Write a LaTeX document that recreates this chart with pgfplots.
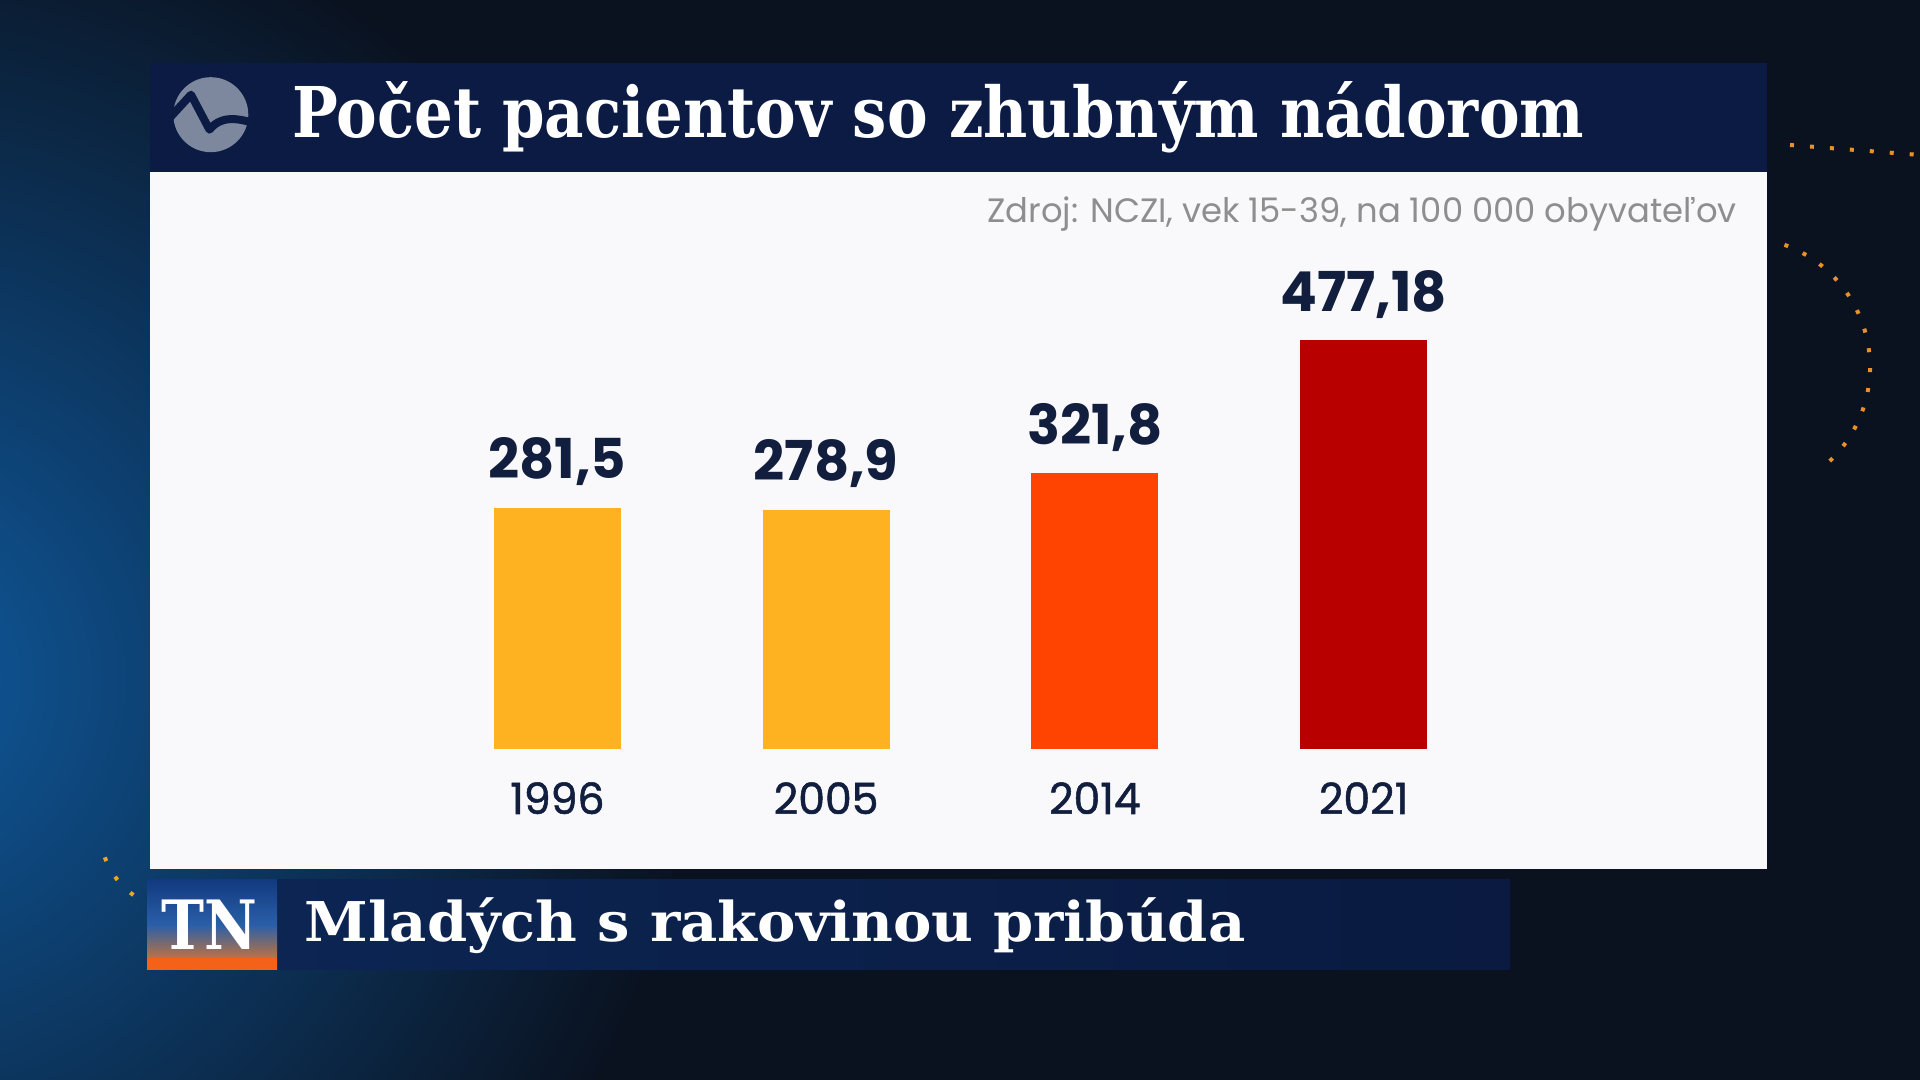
\documentclass[border=0pt]{standalone}
\usepackage{fontspec}
\usepackage{pgfplots}
\pgfplotsset{compat=1.18}
\setmainfont{Poppins}
\newfontfamily\titlefont{DejaVu Serif}[FakeStretch=0.87]
\newfontfamily\capfont{DejaVu Serif}[FakeStretch=1.05]
\newfontfamily\tnfont{DejaVu Serif}[FakeStretch=0.85]
\newfontfamily\valfont{Poppins}[FakeStretch=0.99]
\newfontfamily\yearfont{Poppins}[FakeStretch=0.99,FakeBold=1.2]
\newfontfamily\srcfont{Poppins}
\definecolor{bg}{HTML}{0A1220}
\definecolor{blueglow}{HTML}{0F5A9E}
\definecolor{navy}{HTML}{0B1B44}
\definecolor{txtnavy}{HTML}{121E3E}
\definecolor{logogray}{HTML}{7D889E}
\definecolor{cyellow}{HTML}{FFB221}
\definecolor{corange}{HTML}{FF4300}
\definecolor{cred}{HTML}{B90000}
\definecolor{panel}{HTML}{F9F9FB}
\definecolor{srcgray}{HTML}{8E8E8E}
\definecolor{botbarL}{HTML}{0C2654}
\definecolor{botbarR}{HTML}{0A1A40}
\definecolor{tntop}{HTML}{123A80}
\definecolor{tnmid}{HTML}{2A5FA8}
\definecolor{tnbot}{HTML}{F07A1E}
\definecolor{dotorange}{HTML}{E8902A}
\begin{document}
\begin{tikzpicture}
\useasboundingbox (0,0) rectangle (960pt,540pt);
\begin{scope}[x=0.5pt,y=0.5pt]
  % background
  \fill[bg] (0,0) rectangle (1920,1080);
  \begin{scope}
    \clip (0,0) rectangle (1920,1080);
    \shade[inner color=blueglow, outer color=bg] (-120,400) circle (820);
    \draw[dotorange, line width=2pt, dash pattern=on 2pt off 8pt] (1740,713) ++(70:130) arc (70:-50:130);
    \draw[dotorange, line width=2pt, dash pattern=on 2pt off 8pt] (1790,935) -- (1920,925);
    \draw[dotorange!80!yellow, line width=2pt, dash pattern=on 2pt off 9pt] (180,250) ++(200:80) arc (200:270:80);
  \end{scope}
  % title bar
  \fill[navy] (150,908) rectangle (1767,1017);
  % white panel
  \fill[panel] (150,211) rectangle (1767,908);
  % logo
  \fill[logogray] (210.8,965.3) circle (37.5);
  \draw[navy, line width=4pt, line join=round, line cap=round]
    (168,960.3) -- (191,985.3) -- (209.5,950.3) .. controls (215,957) and (225,966) .. (252,957.3);
  % title
  \node[anchor=base west, inner sep=0pt, text=white] at (292,942)
    {\titlefont\bfseries\fontsize{35}{40}\selectfont Počet pacientov so zhubným nádorom};
  % source
  \node[anchor=base east, inner sep=0pt, text=srcgray] at (1737,857)
    {\srcfont\fontsize{16.9}{20}\selectfont Zdroj: NCZI, vek 15-39, na 100 000 obyvateľov};
  % bottom bar
  \shade[left color=botbarL, right color=botbarR] (147,110) rectangle (1510,200);
  \shade[top color=tntop, bottom color=tnbot, middle color=tnmid] (147,110) rectangle (277,200);
  \fill[tnbot!80!red] (147,110) rectangle (277,122);
  \node[anchor=base, inner sep=0pt, text=white] at (209,130)
    {\tnfont\bfseries\fontsize{34}{36}\selectfont TN};
  \node[anchor=base west, inner sep=0pt, text=white] at (304,138)
    {\capfont\bfseries\fontsize{27.4}{32}\selectfont Mladých s rakovinou pribúda};
\end{scope}
\begin{axis}[
  at={(211.5pt,165.5pt)}, anchor=south west,
  width=537.5pt, height=214.25pt, scale only axis,
  xmin=-0.5, xmax=3.5, ymin=0, ymax=500,
  ybar, bar width=63.5pt,
  axis line style={draw=none},
  ytick=\empty,
  xtick={0,1,2,3},
  xticklabels={1996,2005,2014,2021},
  major tick length=0pt,
  xticklabel style={anchor=base, inner sep=0pt, yshift=-32.5pt,
    font=\yearfont\fontsize{21.5}{24}\selectfont, text=txtnavy},
  point meta=explicit symbolic,
  nodes near coords,
  nodes near coords style={anchor=base, inner sep=0pt, yshift=14.5pt,
    font=\valfont\bfseries\fontsize{27.5}{30}\selectfont, text=txtnavy},
  clip=false,
]
\addplot[fill=cyellow, draw=none, bar shift=0pt] table[x=x, y=y, meta=l, row sep=\\] {x y l\\ 0 281.5 281,5\\};
\addplot[fill=cyellow, draw=none, bar shift=0pt] table[x=x, y=y, meta=l, row sep=\\] {x y l\\ 1 278.9 278,9\\};
\addplot[fill=corange, draw=none, bar shift=0pt] table[x=x, y=y, meta=l, row sep=\\] {x y l\\ 2 321.8 321,8\\};
\addplot[fill=cred, draw=none, bar shift=0pt] table[x=x, y=y, meta=l, row sep=\\] {x y l\\ 3 477.18 477,18\\};
\end{axis}
\end{tikzpicture}
\end{document}
